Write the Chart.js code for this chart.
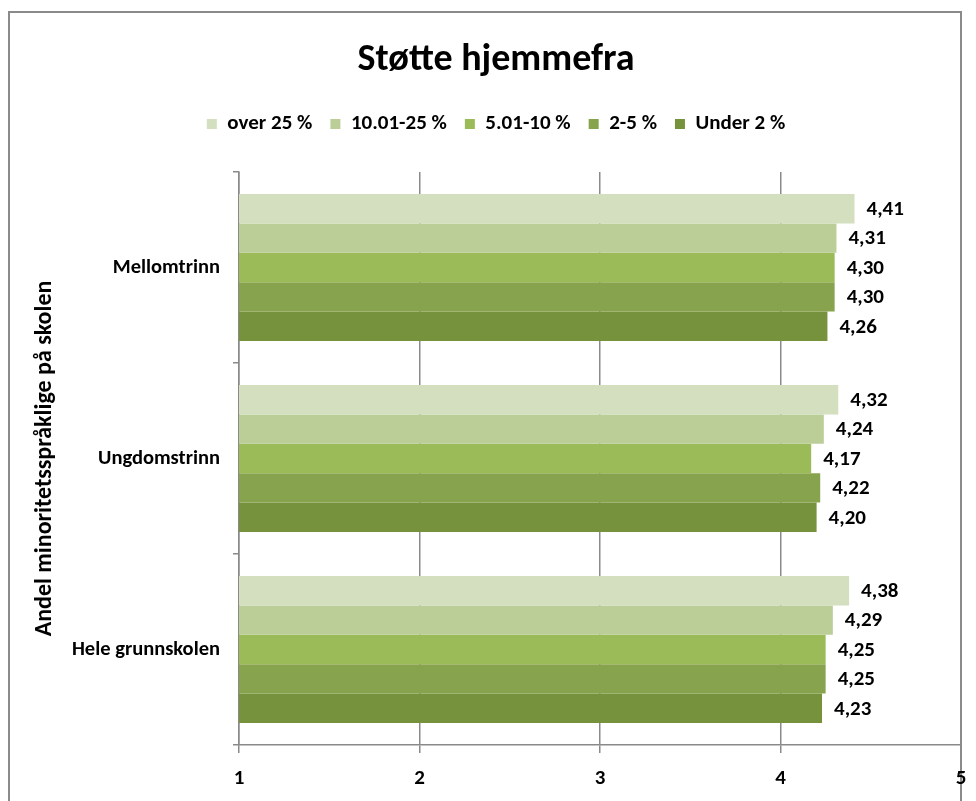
<!DOCTYPE html>
<html>
<head>
<meta charset="utf-8">
<script src="https://cdn.jsdelivr.net/npm/chart.js@4/dist/chart.umd.min.js"></script>
<style>
  html, body { margin: 0; padding: 0; background: #fff; }
  canvas { display: block; }
</style>
</head>
<body>
<canvas id="myBarChart" width="976" height="801"></canvas>
<script>
// categories (top to bottom)
var categories = ["Mellomtrinn", "Ungdomstrinn", "Hele grunnskolen"];

// series, one per share of minority-language pupils
var seriesNames = ["over 25 %", "10.01-25 %", "5.01-10 %", "2-5 %", "Under 2 %"];
var over25 = [4.41, 4.32, 4.38];
var from10to25 = [4.31, 4.24, 4.29];
var from5to10 = [4.30, 4.17, 4.25];
var from2to5 = [4.30, 4.22, 4.25];
var under2 = [4.26, 4.20, 4.23];

var xTicks = [1, 2, 3, 4, 5];

var colors = ["#D3DFBF", "#BBCE97", "#9BBB59", "#88A34D", "#76923C"];
var FONT = '"Carlito", "Liberation Sans Narrow", "Open Sans", sans-serif';
var grey = "#8a8a8a";

var seriesValues = [over25, from10to25, from5to10, from2to5, under2];

// draws the value next to each bar
var valueLabels = {
    id: 'valueLabels',
    afterDatasetsDraw: function(chart) {
        var ctx = chart.ctx;
        ctx.save();
        ctx.font = 'bold 21px ' + FONT;
        ctx.fillStyle = '#000';
        ctx.textAlign = 'left';
        ctx.textBaseline = 'middle';
        chart.data.datasets.forEach(function(ds, i) {
            chart.getDatasetMeta(i).data.forEach(function(bar, j) {
                var txt = ds.data[j].toFixed(2).replace('.', ',');
                ctx.fillText(txt, bar.x + 12, bar.y + 1);
            });
        });
        ctx.restore();
    }
};

// outer frame of the chart
var frame = {
    id: 'frame',
    beforeDraw: function(chart) {
        var ctx = chart.ctx;
        ctx.save();
        ctx.strokeStyle = grey;
        ctx.lineWidth = 2;
        ctx.strokeRect(9, 12, 952, 1000);
        ctx.restore();
    }
};

var ctx = document.getElementById("myBarChart");

var myBarChart = new Chart(ctx, {
    type: 'bar',
    data: {
        labels: categories,
        datasets: seriesNames.map(function(name, i) {
            return {
                label: name,
                data: seriesValues[i],
                backgroundColor: colors[i],
                borderWidth: 0,
                barPercentage: 1,
                categoryPercentage: 0.77
            };
        })
    },
    options: {
        indexAxis: 'y',
        responsive: false,
        animation: false,
        devicePixelRatio: 1,
        layout: {
            padding: { top: 11, left: 31, right: 15, bottom: 0 }
        },
        scales: {
            x: {
                min: 1,
                max: 5,
                afterBuildTicks: function(scale) {
                    scale.ticks = xTicks.map(function(v) { return { value: v }; });
                },
                grid: { color: grey, lineWidth: 1.5, tickLength: 8 },
                border: { color: grey, width: 1.5 },
                ticks: {
                    color: '#000',
                    padding: 13,
                    font: { family: FONT, size: 21, weight: 'bold' }
                },
                afterFit: function(scale) {
                    scale.height = 56;
                    scale.paddingLeft = 0;
                    scale.paddingRight = 0;
                }
            },
            gap: {
                type: 'linear',
                position: 'top',
                grid: { display: false },
                border: { display: false },
                ticks: { display: false },
                afterFit: function(scale) { scale.height = 27.5; }
            },
            y: {
                grid: { offset: true, drawOnChartArea: false, tickLength: 6, color: grey, lineWidth: 1.5 },
                border: { color: grey, width: 1.5 },
                ticks: {
                    color: '#000',
                    padding: 13,
                    font: { family: FONT, size: 20.5, weight: 'bold' }
                },
                title: {
                    display: true,
                    text: 'Andel minoritetsspråklige på skolen',
                    color: '#000',
                    padding: { top: 0, bottom: 0 },
                    font: { family: FONT, size: 24, weight: 'bold' }
                },
                afterFit: function(scale) { scale.width = 208; }
            }
        },
        plugins: {
            title: {
                display: true,
                text: 'Støtte hjemmefra',
                color: '#000',
                padding: { top: 30, bottom: 16.5 },
                font: { family: FONT, size: 38, weight: 'bold', lineHeight: 1 }
            },
            legend: {
                display: true,
                position: 'top',
                labels: {
                    boxWidth: 10,
                    boxHeight: 10,
                    padding: 18,
                    color: '#000',
                    font: { family: FONT, size: 21, weight: 'bold' }
                }
            },
            tooltip: { enabled: false }
        }
    },
    plugins: [valueLabels, frame]
});
</script>
</body>
</html>
